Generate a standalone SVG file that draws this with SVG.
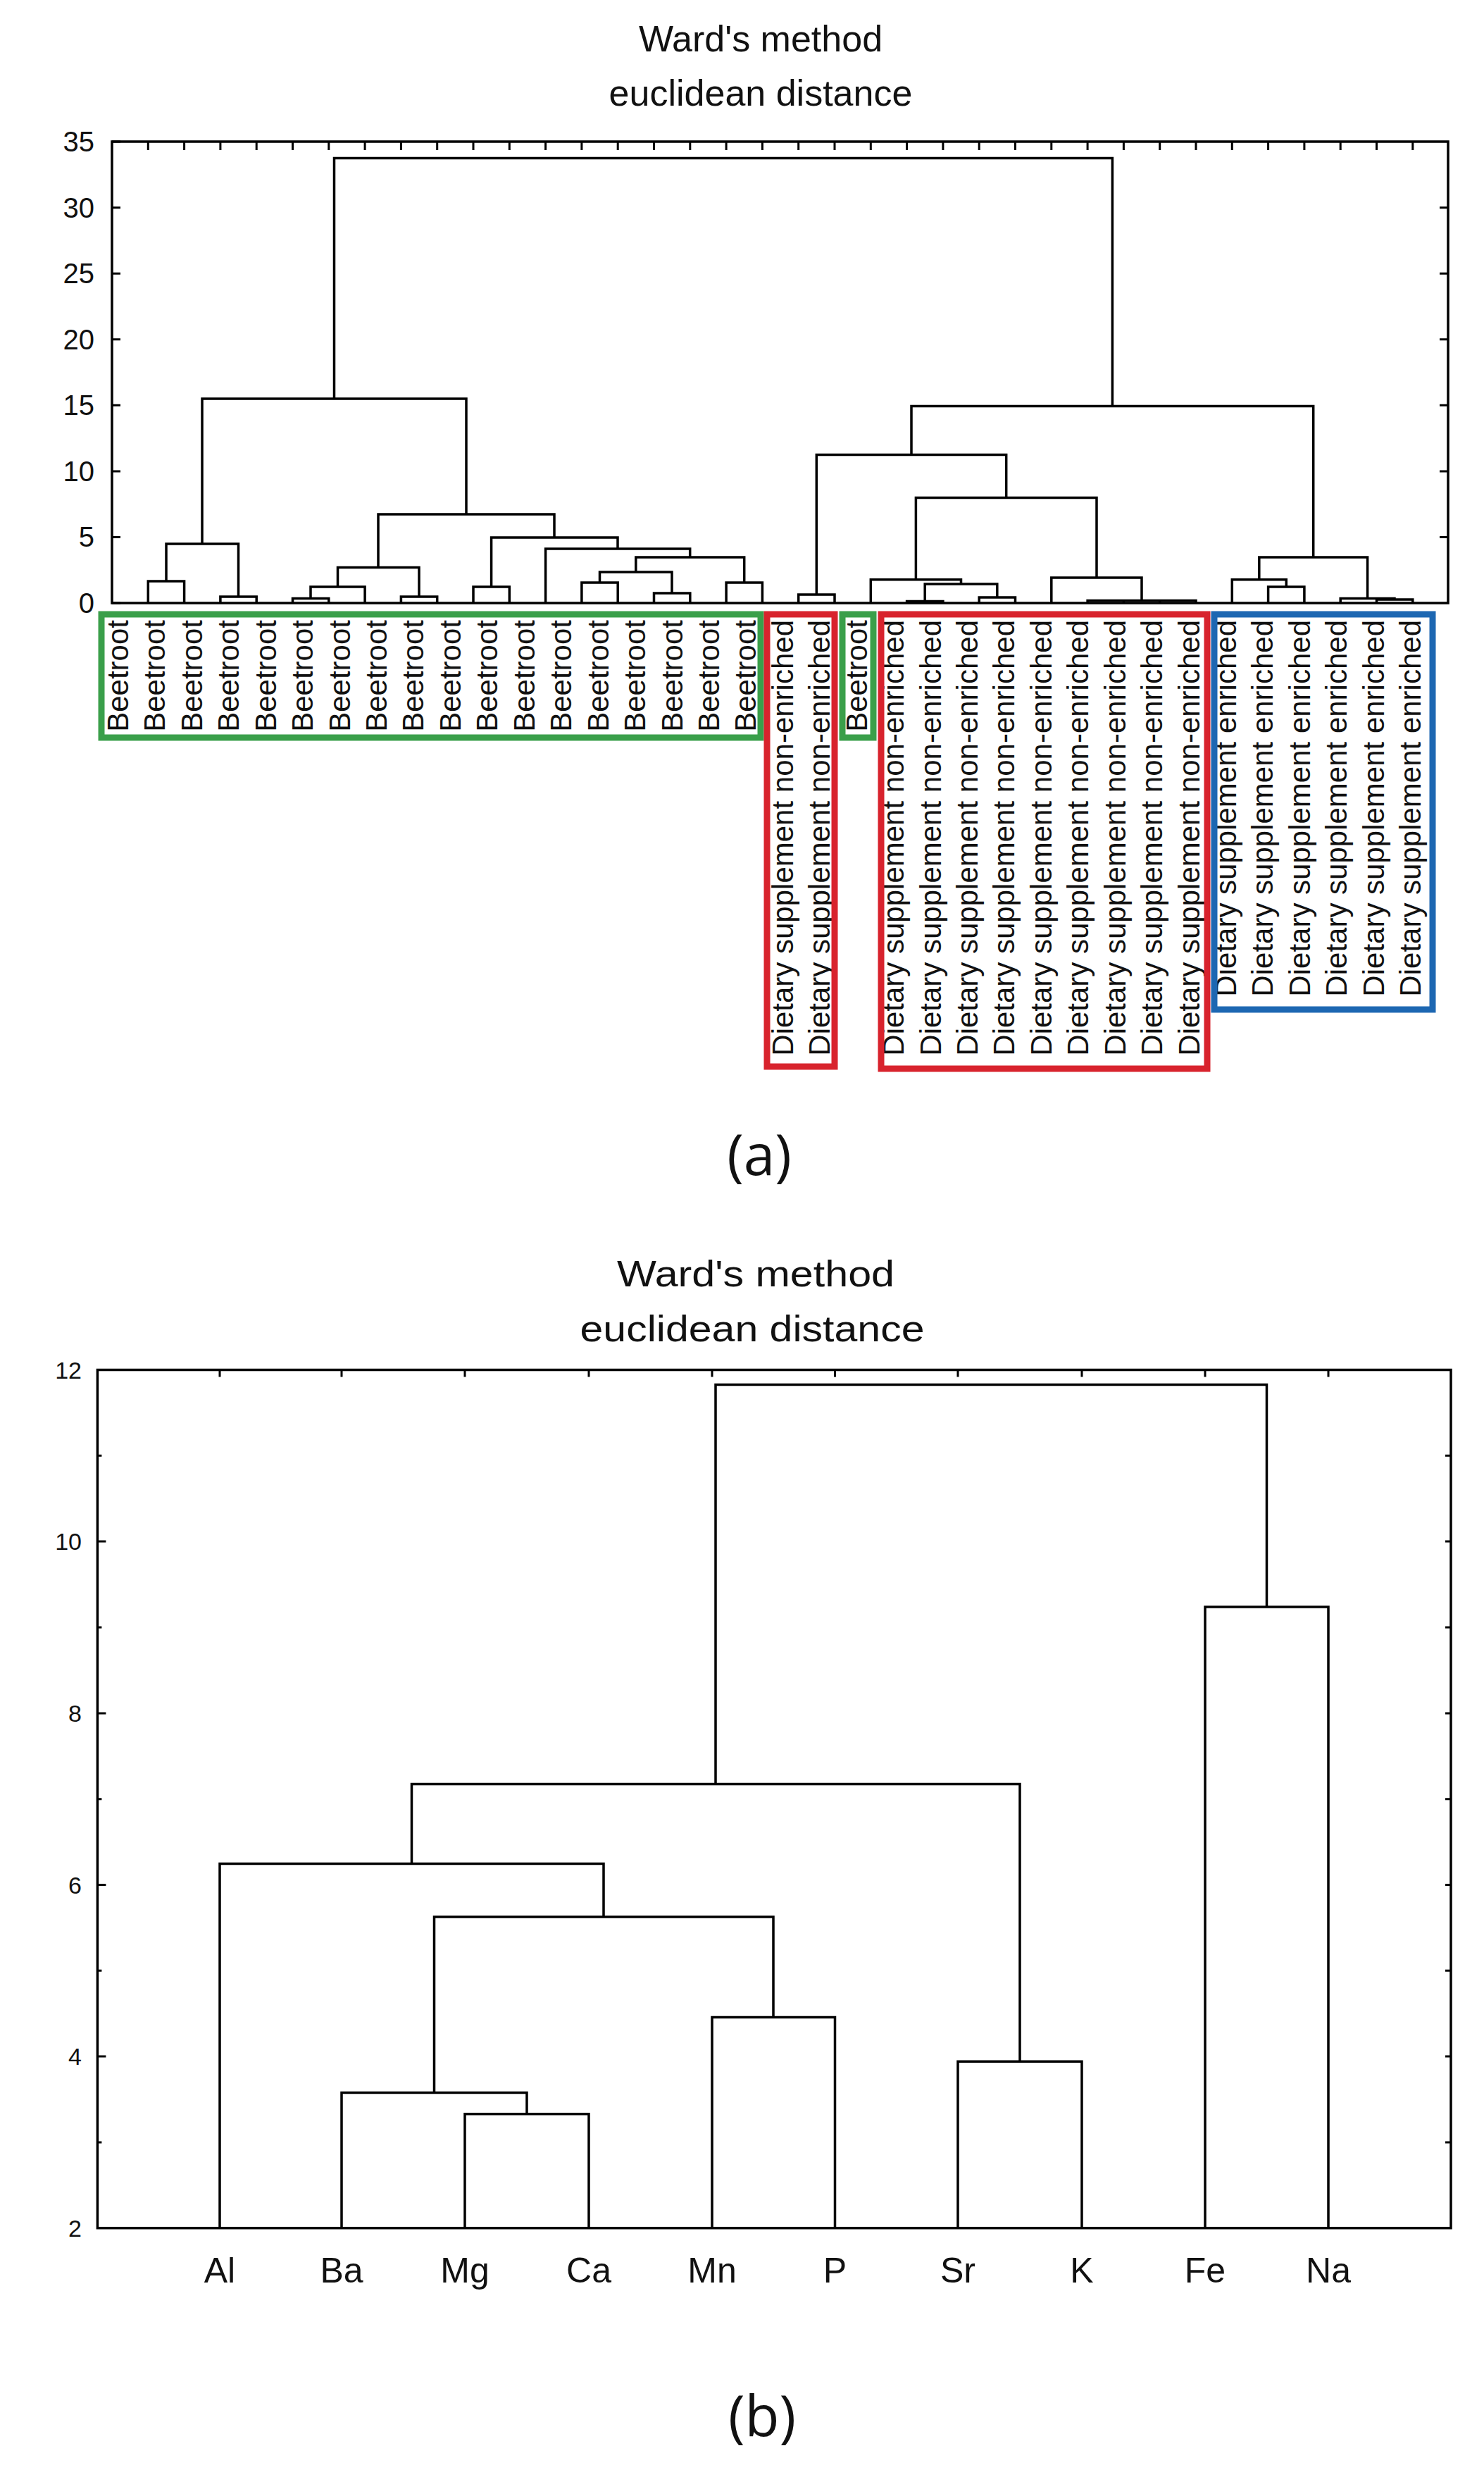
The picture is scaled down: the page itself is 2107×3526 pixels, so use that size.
<svg xmlns="http://www.w3.org/2000/svg" width="2107" height="3526" viewBox="0 0 2107 3526">
<style>
text{font-family:"Liberation Sans",Arial,sans-serif;fill:#111}
.t{font-size:52px;text-anchor:middle}
.yl{font-size:40px;text-anchor:end}
.yb{font-size:34px;text-anchor:end}
.lab{font-size:42px;text-anchor:end}
.xl{font-size:50px;text-anchor:middle}
.pl{font-family:"Open Sans","Liberation Sans",sans-serif;font-size:80px;text-anchor:middle}
.fr{fill:none;stroke:#000;stroke-width:3.5}
.dl{fill:none;stroke:#000;stroke-width:3.5}
.tk{stroke:#000;stroke-width:3}
.g{fill:none;stroke:#3a9f4a;stroke-width:9}
.r{fill:none;stroke:#d8232d;stroke-width:9}
.b{fill:none;stroke:#1d67b2;stroke-width:9}
</style>
<rect width="2107" height="3526" fill="#fff"/>
<g id="panel-a">
<text class="t" x="1080" y="73">Ward's method</text>
<text class="t" x="1080" y="150">euclidean distance</text>
<rect class="fr" x="159" y="201" width="1897" height="655"/>
<g id="axis-a">
<path class="tk" d="M159 856h12M159 762.5h12M159 669h12M159 575.3h12M159 481.8h12M159 388.3h12M159 294.8h12M159 201h12M2056 762.5h-12M2056 669h-12M2056 575.3h-12M2056 481.8h-12M2056 388.3h-12M2056 294.8h-12"/>
<path class="tk" d="M210.3 201v12M261.6 201v12M312.9 201v12M364.2 201v12M415.5 201v12M466.8 201v12M518.1 201v12M569.4 201v12M620.7 201v12M672 201v12M723.3 201v12M774.6 201v12M825.9 201v12M877.2 201v12M928.5 201v12M979.8 201v12M1031.1 201v12M1082.4 201v12M1133.7 201v12M1185 201v12M1236.3 201v12M1287.6 201v12M1338.9 201v12M1390.2 201v12M1441.5 201v12M1492.8 201v12M1544.1 201v12M1595.4 201v12M1646.7 201v12M1698 201v12M1749.3 201v12M1800.6 201v12M1851.9 201v12M1903.2 201v12M1954.5 201v12M2005.8 201v12"/>
<text class="yl" x="134" y="870">0</text>
<text class="yl" x="134" y="776">5</text>
<text class="yl" x="134" y="683">10</text>
<text class="yl" x="134" y="589">15</text>
<text class="yl" x="134" y="496">20</text>
<text class="yl" x="134" y="402">25</text>
<text class="yl" x="134" y="309">30</text>
<text class="yl" x="134" y="215">35</text>
</g>
<g id="connectors-a">
<path class="dl" d="M210.3 856V825H261.6V856M312.9 856V847H364.2V856M236 825V772H338.5V847M415.5 856V849.5H466.8V856M441 849.5V833H518.1V856M569.4 856V847H620.7V856M479.5 833V805.5H595V847M672 856V833H723.3V856M825.9 856V827H877.2V856M928.5 856V842H979.8V856M851.5 827V812H954V842M1031.1 856V827H1082.4V856M902.8 812V791H1056.7V827M774.6 856V779H979.7V791M697.6 833V763H877V779M537 805.5V730H787V763M287 772V566H662V730"/>
<path class="dl" d="M1133.7 856V844H1185V856M1287.6 856V853.5H1338.9V856M1390.2 856V848H1441.5V856M1313.2 853.5V829H1415.8V848M1236.3 856V822.7H1364.5V829M1544.1 856V852.5H1698V856M1595.4 856V852.5M1646.7 856V852.5M1492.8 856V820H1621V852.5M1300.4 822.7V706.6H1557V820M1159.3 844V645.5H1428.7V706.6M1800.6 856V833H1851.9V856M1749.3 856V822.7H1826.3V833M1954.5 856V851H2005.8V856M1903.2 856V849.5H1980V851M1787.8 822.7V791H1941.6V849.5M1294 645.5V576.5H1864.7V791M474.5 566V224.5H1579.4V576.5"/>
</g>
<g id="labels-a">
<text class="lab" transform="translate(182,880) rotate(-90)">Beetroot</text>
<text class="lab" transform="translate(234.4,880) rotate(-90)">Beetroot</text>
<text class="lab" transform="translate(286.9,880) rotate(-90)">Beetroot</text>
<text class="lab" transform="translate(339.3,880) rotate(-90)">Beetroot</text>
<text class="lab" transform="translate(391.7,880) rotate(-90)">Beetroot</text>
<text class="lab" transform="translate(444.2,880) rotate(-90)">Beetroot</text>
<text class="lab" transform="translate(496.6,880) rotate(-90)">Beetroot</text>
<text class="lab" transform="translate(549,880) rotate(-90)">Beetroot</text>
<text class="lab" transform="translate(601.4,880) rotate(-90)">Beetroot</text>
<text class="lab" transform="translate(653.9,880) rotate(-90)">Beetroot</text>
<text class="lab" transform="translate(706.3,880) rotate(-90)">Beetroot</text>
<text class="lab" transform="translate(758.7,880) rotate(-90)">Beetroot</text>
<text class="lab" transform="translate(811.2,880) rotate(-90)">Beetroot</text>
<text class="lab" transform="translate(863.6,880) rotate(-90)">Beetroot</text>
<text class="lab" transform="translate(916,880) rotate(-90)">Beetroot</text>
<text class="lab" transform="translate(968.5,880) rotate(-90)">Beetroot</text>
<text class="lab" transform="translate(1020.9,880) rotate(-90)">Beetroot</text>
<text class="lab" transform="translate(1073.3,880) rotate(-90)">Beetroot</text>
<text class="lab" transform="translate(1125.7,880) rotate(-90)">Dietary supplement non-enriched</text>
<text class="lab" transform="translate(1178.2,880) rotate(-90)">Dietary supplement non-enriched</text>
<text class="lab" transform="translate(1230.6,880) rotate(-90)">Beetroot</text>
<text class="lab" transform="translate(1283,880) rotate(-90)">Dietary supplement non-enriched</text>
<text class="lab" transform="translate(1335.5,880) rotate(-90)">Dietary supplement non-enriched</text>
<text class="lab" transform="translate(1387.9,880) rotate(-90)">Dietary supplement non-enriched</text>
<text class="lab" transform="translate(1440.3,880) rotate(-90)">Dietary supplement non-enriched</text>
<text class="lab" transform="translate(1492.8,880) rotate(-90)">Dietary supplement non-enriched</text>
<text class="lab" transform="translate(1545.2,880) rotate(-90)">Dietary supplement non-enriched</text>
<text class="lab" transform="translate(1597.6,880) rotate(-90)">Dietary supplement non-enriched</text>
<text class="lab" transform="translate(1650,880) rotate(-90)">Dietary supplement non-enriched</text>
<text class="lab" transform="translate(1702.5,880) rotate(-90)">Dietary supplement non-enriched</text>
<text class="lab" transform="translate(1754.9,880) rotate(-90)">Dietary supplement enriched</text>
<text class="lab" transform="translate(1807.3,880) rotate(-90)">Dietary supplement enriched</text>
<text class="lab" transform="translate(1859.8,880) rotate(-90)">Dietary supplement enriched</text>
<text class="lab" transform="translate(1912.2,880) rotate(-90)">Dietary supplement enriched</text>
<text class="lab" transform="translate(1964.6,880) rotate(-90)">Dietary supplement enriched</text>
<text class="lab" transform="translate(2017,880) rotate(-90)">Dietary supplement enriched</text>
</g>
<g id="group-boxes">
<rect class="g" x="144" y="872" width="936" height="175"/>
<rect class="r" x="1089" y="872" width="96" height="642"/>
<rect class="g" x="1196" y="872" width="44" height="175"/>
<rect class="r" x="1251" y="872" width="463" height="645"/>
<rect class="b" x="1724" y="872" width="310" height="561"/>
</g>
<text class="pl" x="1078" y="1668">(a)</text>
</g>
<g id="panel-b">
<text class="t" x="1073" y="1826" textLength="394" lengthAdjust="spacingAndGlyphs">Ward's method</text>
<text class="t" x="1068" y="1904" textLength="489" lengthAdjust="spacingAndGlyphs">euclidean distance</text>
<rect class="fr" x="138.4" y="1944.5" width="1921.6" height="1218.2"/>
<g id="axis-b">
<path class="tk" d="M138.4 2919.1h12M138.4 2675.5h12M138.4 2431.9h12M138.4 2188.1h12M138.4 3040.9h6M138.4 2797.3h6M138.4 2553.7h6M138.4 2310.1h6M138.4 2066.3h6M2060 3040.9h-8M2060 2919.1h-8M2060 2797.3h-8M2060 2675.5h-8M2060 2553.7h-8M2060 2431.9h-8M2060 2310.1h-8M2060 2188.1h-8M2060 2066.3h-8"/>
<path class="tk" d="M312 1944.5v10M485 1944.5v10M660 1944.5v10M836 1944.5v10M1011 1944.5v10M1185.5 1944.5v10M1360 1944.5v10M1536 1944.5v10M1711 1944.5v10M1886 1944.5v10"/>
<text class="yb" x="116" y="3175">2</text>
<text class="yb" x="116" y="2931">4</text>
<text class="yb" x="116" y="2688">6</text>
<text class="yb" x="116" y="2444">8</text>
<text class="yb" x="116" y="2200">10</text>
<text class="yb" x="116" y="1957">12</text>
<text class="xl" x="312" y="3240">Al</text>
<text class="xl" x="485" y="3240">Ba</text>
<text class="xl" x="660" y="3240">Mg</text>
<text class="xl" x="836" y="3240">Ca</text>
<text class="xl" x="1011" y="3240">Mn</text>
<text class="xl" x="1185.5" y="3240">P</text>
<text class="xl" x="1360" y="3240">Sr</text>
<text class="xl" x="1536" y="3240">K</text>
<text class="xl" x="1711" y="3240">Fe</text>
<text class="xl" x="1886" y="3240">Na</text>
</g>
<g id="connectors-b">
<path class="dl" d="M1711 3162.7V2281H1886V3162.7M660 3162.7V3000.8H836V3162.7M485 3162.7V2970.5H748V3000.8M1011 3162.7V2863.4H1185.5V3162.7M616.5 2970.5V2721H1098V2863.4M312 3162.7V2645.6H857V2721M1360 3162.7V2926.3H1536V3162.7M584.5 2645.6V2532.6H1448V2926.3M1016 2532.6V1965.5H1798.5V2281"/>
</g>
<text class="pl" x="1082" y="3458">(b)</text>
</g>
</svg>
